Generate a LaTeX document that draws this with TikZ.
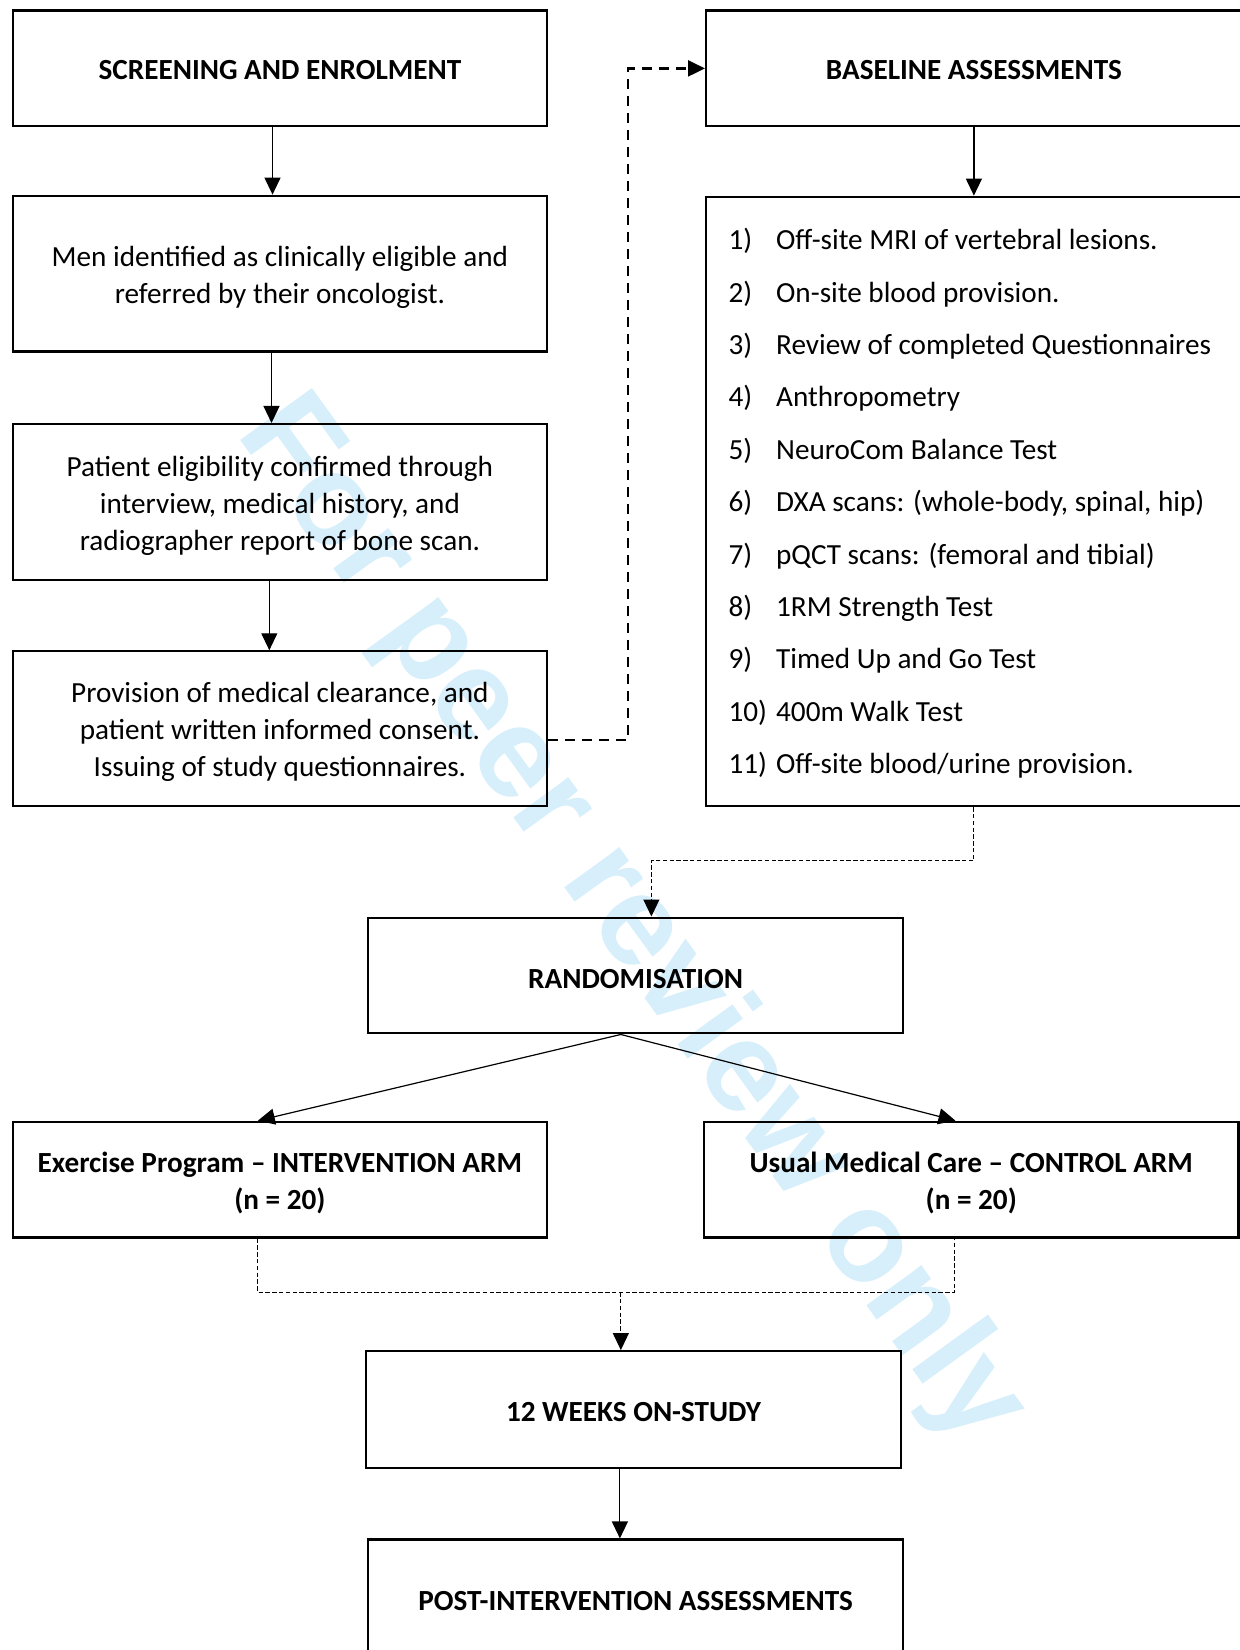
\documentclass[tikz,border=0pt]{standalone}
\usepackage{fontspec}
\setmainfont{Carlito}
\newfontfamily\wmfont{Liberation Sans}
\usetikzlibrary{arrows.meta}
\definecolor{wmblue}{RGB}{214,239,251}
\newcommand\itm[3]{\node[listitem] (i#1) at (692,#2) {\makebox[23.8pt][l]{#1)}#3};}
\begin{document}
\begin{tikzpicture}[x=0.52635pt,y=-0.52635pt,
  box/.style={draw,line width=1.1pt,minimum width=267.4pt,minimum height=57.9pt,inner sep=0pt},
  txt/.style={inner sep=0pt,align=center,font=\fontsize{14.6}{18.4}\selectfont},
  headtxt/.style={txt,font=\fontsize{14.6}{18.4}\selectfont\bfseries},
  arr/.style={line width=0.6pt,-{Triangle[length=8.5pt,width=8pt]}},
  dashA/.style={line width=1.1pt,dash pattern=on 5pt off 3.5pt},
  dashB/.style={line width=0.55pt,dash pattern=on 2.2pt off 1.2pt},
  listitem/.style={anchor=base west,inner sep=0pt,font=\fontsize{14.6}{18.4}\selectfont}]
\useasboundingbox (0,0) rectangle (1178,1568);
% watermark
\node[rotate=-54.1,text=wmblue,font=\wmfont\bfseries\fontsize{64.5}{64.5}\selectfont] (wm) at (599,876) {For peer review only};
% left column
\node[box] (s1) at (266,65) {};
\node[headtxt] (s1t) at ([yshift=-0.6pt]s1.center) {SCREENING AND ENROLMENT};
\node[box,minimum height=77.9pt] (s2) at (266,260) {};
\node[txt] (s2t) at ([yshift=-2.0pt]s2.center) {Men identified as clinically eligible and\\referred by their oncologist.};
\node[box,minimum height=77.9pt] (s3) at (266,477) {};
\node[txt] (s3t) at ([yshift=-2.0pt]s3.center) {Patient eligibility confirmed through\\interview, medical history, and\\radiographer report of bone scan.};
\node[box,minimum height=77.4pt] (s4) at (266,692.5) {};
\node[txt] (s4t) at ([yshift=-1.6pt]s4.center) {Provision of medical clearance, and\\patient written informed consent.\\Issuing of study questionnaires.};
% right column
\node[box,minimum width=267.9pt] (ba) at (925.5,65) {};
\node[headtxt] (bat) at ([yshift=-0.6pt]ba.center) {BASELINE ASSESSMENTS};
\node[box,minimum width=267.9pt,minimum height=304.8pt] (bl) at (925.5,476.5) {};
\itm{1}{237.5}{Off-site MRI of vertebral lesions.}
\itm{2}{287.25}{On-site blood provision.}
\itm{3}{337}{Review of completed Questionnaires}
\itm{4}{386.75}{Anthropometry}
\itm{5}{436.5}{NeuroCom Balance Test}
\itm{6}{486.25}{DXA scans: (whole-body, spinal, hip)}
\itm{7}{536}{pQCT scans: (femoral and tibial)}
\itm{8}{585.75}{1RM Strength Test}
\itm{9}{635.5}{Timed Up and Go Test}
\itm{10}{685.25}{400m Walk Test}
\itm{11}{735}{Off-site blood/urine provision.}
% lower part
\node[box] (rd) at (604,927) {};
\node[headtxt] (rdt) at ([yshift=-1.6pt]rd.center) {RANDOMISATION};
\node[box] (ex) at (266,1121) {};
\node[headtxt] (ext) at ([yshift=-1.6pt]ex.center) {Exercise Program -- INTERVENTION ARM\\(n = 20)};
\node[box] (uc) at (923,1121) {};
\node[headtxt] (uct) at ([yshift=-1.6pt]uc.center) {Usual Medical Care -- CONTROL ARM\\(n = 20)};
\node[box,minimum height=58.4pt] (wk) at (602,1339.5) {};
\node[headtxt] (wkt) at ([yshift=-1.1pt]wk.center) {12 WEEKS ON-STUDY};
\node[box] (pa) at (604,1518) {};
\node[headtxt] (pat) at ([yshift=-1.6pt]pa.center) {POST-INTERVENTION ASSESSMENTS};
% connectors
\draw[arr] ([xshift=-3.7pt]s1.south) -- ([xshift=-3.7pt]s2.north);
\draw[arr] ([xshift=-4.2pt]s2.south) -- ([xshift=-4.2pt]s3.north);
\draw[arr] ([xshift=-5.3pt]s3.south) -- ([xshift=-5.3pt]s4.north);
\draw[arr,dashA] ([yshift=-5.5pt]s4.east) -- ++(40pt,0) |- (ba.west);
\draw[arr] (ba.south) -- (bl.north);
\draw[arr,dashB] (bl.south) -- ++(0,-26.8pt) -| ([xshift=7.9pt]rd.north);
\draw[arr] ([xshift=-7.4pt]rd.south) -- ([xshift=-11.05pt]ex.north);
\draw[arr] ([xshift=-7.4pt]rd.south) -- ([xshift=-7.9pt]uc.north);
\coordinate (jn) at (590,1228);
\draw[dashB] ([xshift=-11.05pt]ex.south) |- (jn) -| ([xshift=-8.4pt]uc.south);
\draw[arr,dashB] (jn) -- (jn |- wk.north);
\draw[arr] ([xshift=-6.8pt]wk.south) -- ([xshift=-6.8pt]wk.south |- pa.north);
\end{tikzpicture}
\end{document}
